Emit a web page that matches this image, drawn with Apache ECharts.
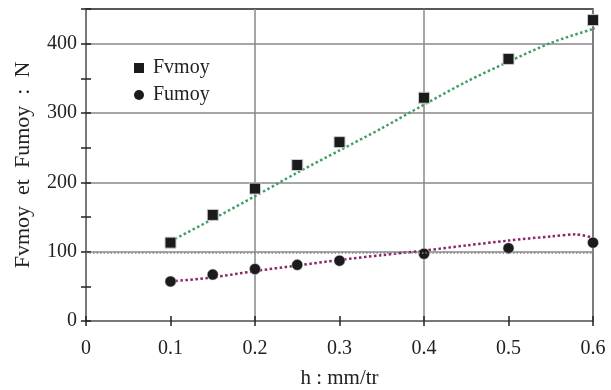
<!DOCTYPE html>
<html>
<head>
<meta charset="utf-8">
<script src="https://cdn.jsdelivr.net/npm/echarts@6/dist/echarts.min.js"></script>
<style>
  html, body { margin: 0; padding: 0; background: #fff; }
  #main { width: 611px; height: 390px; }
</style>
</head>
<body>
<div id="main"></div>
<script>
// measured points
const hValues = [0.1, 0.15, 0.2, 0.25, 0.3, 0.4, 0.5, 0.6];
const fvmoy = [113, 153, 191, 225, 258, 322, 378, 434];
const fumoy = [57, 67, 75, 81, 87, 97, 105, 113];

// fitted curves
const fitVx = [0.1, 0.15, 0.2, 0.25, 0.3, 0.35, 0.4, 0.45, 0.5, 0.55, 0.6, 0.62];
const fitVy = [115, 147, 180, 214, 246, 278, 312, 345, 374, 401, 421, 426];
const fitUx = [0.1, 0.15, 0.2, 0.25, 0.3, 0.35, 0.4, 0.45, 0.5, 0.55, 0.58, 0.6];
const fitUy = [57, 63, 72, 80, 88, 95, 101.5, 109, 116, 122, 125, 120];

const refLine = 98;
const xTicks = [0, 0.1, 0.2, 0.3, 0.4, 0.5, 0.6];

const zip = (xs, ys) => xs.map((x, i) => [x, ys[i]]);
const font = 'Liberation Serif';

const chart = echarts.init(document.getElementById('main'));
chart.setOption({
  animation: false,
  textStyle: {fontFamily: font},
  grid: {
    left: 86, right: 18, top: 9, bottom: 69, outerBoundsMode: 'none',
    show: true, borderColor: '#222', borderWidth: 1.5
  },
  legend: {
    left: 129, top: 53, orient: 'vertical', itemGap: 7,
    itemWidth: 10, itemHeight: 10,
    textStyle: {fontFamily: font, fontSize: 20, color: '#222', padding: [0, 0, 0, 4]},
    itemStyle: {borderWidth: 0},
    data: [{name: 'Fvmoy', icon: 'rect'}, {name: 'Fumoy', icon: 'circle'}]
  },
  xAxis: [{
    type: 'value', min: 0, max: 0.6, interval: 0.1,
    name: 'h : mm/tr', nameLocation: 'middle', nameGap: 47,
    nameTextStyle: {fontFamily: font, fontSize: 21, color: '#222'},
    axisLine: {lineStyle: {color: '#777', width: 1.5}},
    axisTick: {length: 5, lineStyle: {color: '#222', width: 1.5}},
    axisLabel: {margin: 18, fontSize: 20, color: '#222', formatter: v => xTicks.includes(+v.toFixed(2)) ? String(+v.toFixed(2)) : ''},
    splitLine: {show: true, lineStyle: {color: ['#888', 'rgba(0,0,0,0)'], width: 1.5}}
  }, {
    type: 'value', min: 0, max: 0.6, interval: 0.1, position: 'bottom',
    axisLine: {show: false}, axisLabel: {show: false}, splitLine: {show: false},
    axisTick: {show: true, inside: true, length: 5, lineStyle: {color: '#222', width: 1.5}}
  }],
  yAxis: [{
    type: 'value', min: 0, max: 450, interval: 50,
    name: 'Fvmoy  et  Fumoy  :  N', nameLocation: 'middle', nameGap: 52,
    nameTextStyle: {fontFamily: font, fontSize: 22, color: '#222'},
    axisLine: {show: true, lineStyle: {color: '#777', width: 1.5}},
    axisTick: {length: 5, lineStyle: {color: '#222', width: 1.5}},
    axisLabel: {margin: 9, fontSize: 20, color: '#222', formatter: v => (v % 100 === 0 ? String(v) : '')},
    splitLine: {show: true, lineStyle: {color: ['#888', 'rgba(0,0,0,0)'], width: 1.5}}
  }, {
    type: 'value', min: 0, max: 450, interval: 50, position: 'left',
    axisLine: {show: false}, axisLabel: {show: false}, splitLine: {show: false},
    axisTick: {show: true, inside: true, length: 5, lineStyle: {color: '#222', width: 1.5}}
  }],
  series: [{
    name: 'fitV', type: 'line', data: zip(fitVx, fitVy), smooth: 0.3, showSymbol: false, clip: false,
    lineStyle: {color: '#3f9e63', width: 2.5, type: [2.5, 2.5]}, z: 2
  }, {
    name: 'fitU', type: 'line', data: zip(fitUx, fitUy), smooth: 0.3, showSymbol: false, clip: false,
    lineStyle: {color: '#8c2468', width: 2.5, type: [2.5, 2.5]}, z: 2,
    markLine: {
      silent: true, symbol: 'none', label: {show: false},
      lineStyle: {color: '#888', type: [1.5, 2], width: 1.5},
      data: [{yAxis: refLine}]
    }
  }, {
    name: 'Fvmoy', type: 'scatter', data: zip(hValues, fvmoy), symbol: 'rect', symbolSize: 11,
    itemStyle: {color: '#1b1b1d', opacity: 1, borderColor: '#ccc', borderWidth: 1}, z: 3
  }, {
    name: 'Fumoy', type: 'scatter', data: zip(hValues, fumoy), symbol: 'circle', symbolSize: 11,
    itemStyle: {color: '#1b1b1d', opacity: 1, borderColor: '#ccc', borderWidth: 0.5}, z: 3
  }]
});
</script>
</body>
</html>
